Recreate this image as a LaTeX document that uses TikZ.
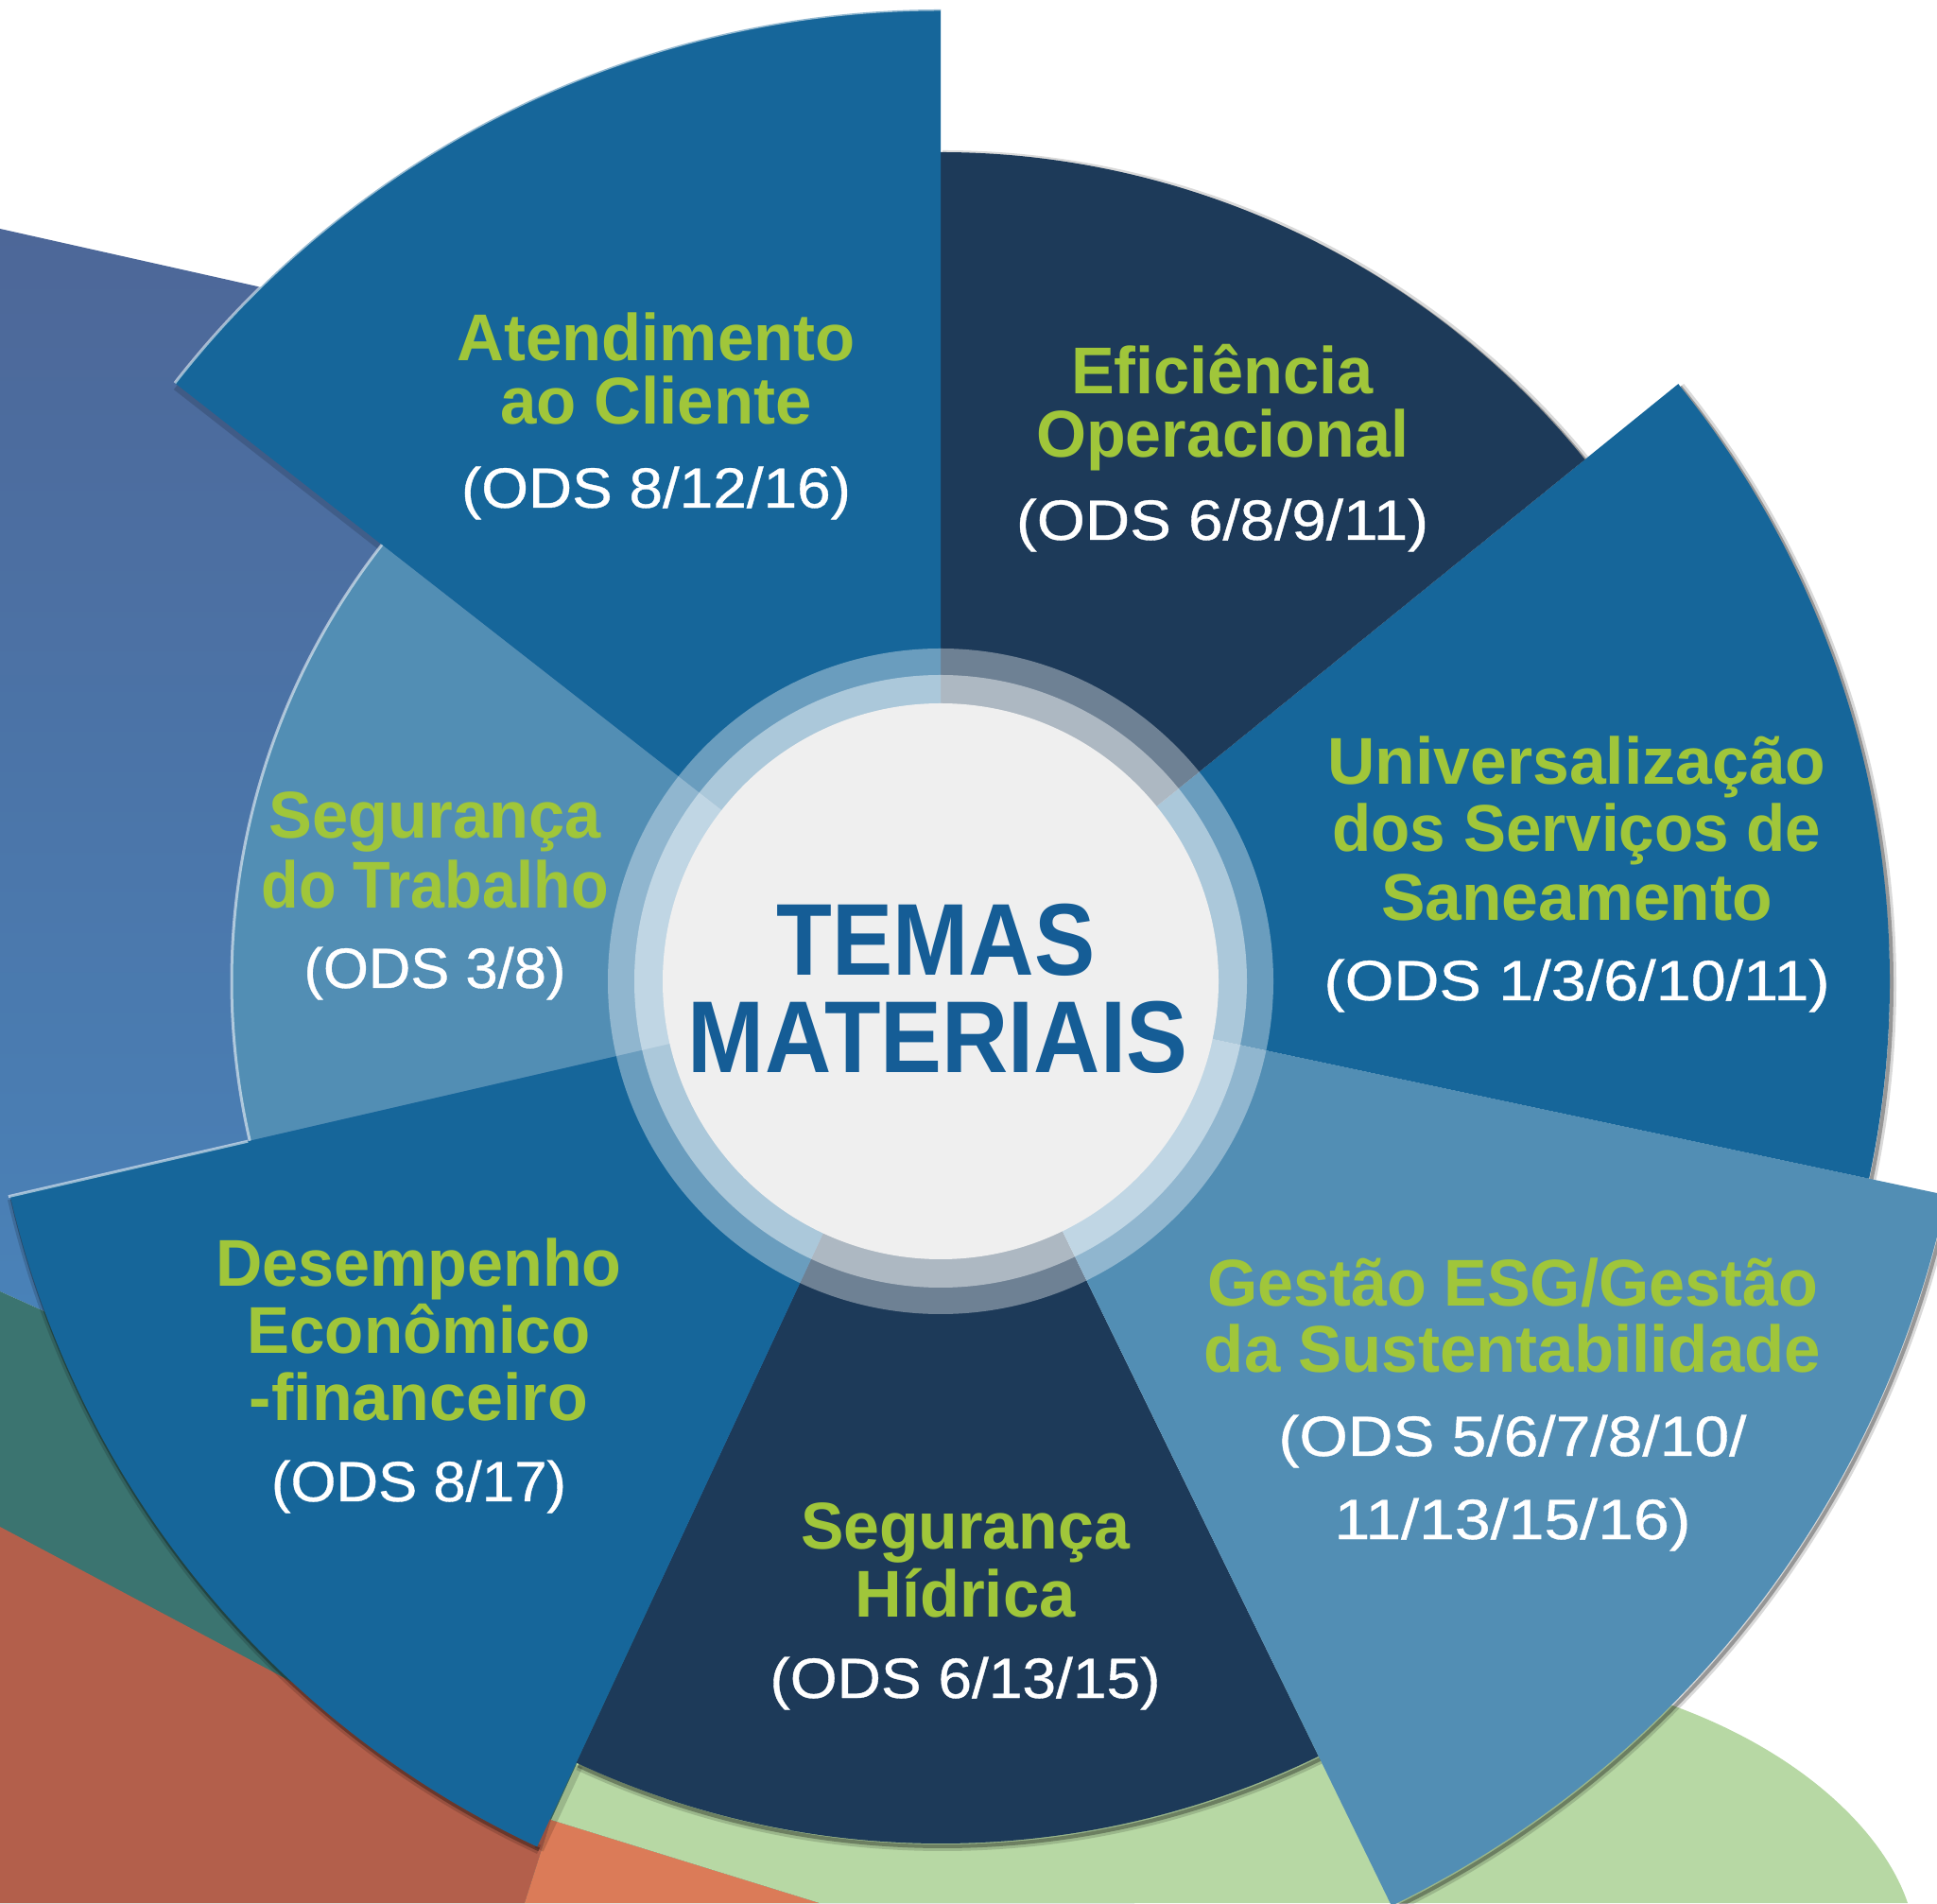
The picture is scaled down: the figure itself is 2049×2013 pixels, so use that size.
\documentclass[tikz,border=0pt]{standalone}
\usepackage{fontspec}
\setmainfont{Liberation Sans}
\newfontfamily\odsfont[FakeBold=0.6]{Liberation Sans}
\usepackage{graphicx}
\definecolor{medblue}{RGB}{22,102,154}
\definecolor{navy}{RGB}{29,58,89}
\definecolor{ltblue}{RGB}{82,142,180}
\definecolor{lime}{RGB}{160,198,58}
\definecolor{temas}{RGB}{21,93,150}
\definecolor{bgtop}{RGB}{77,103,152}
\definecolor{bgbot}{RGB}{72,140,196}
\definecolor{tealbg}{RGB}{59,116,112}
\definecolor{brick}{RGB}{179,95,75}
\definecolor{salmon}{RGB}{219,123,88}
\definecolor{pale}{RGB}{183,216,164}
\definecolor{disc}{RGB}{239,239,239}
\newcommand{\fitw}[2]{\resizebox{#1pt}{\height}{#2}}
\newcommand{\mysector}[4]{\fill[#1] (0,0) -- (#2:#4) arc[start angle=#2, end angle=#3, radius=#4] -- cycle;}
\newcommand{\myshadow}[3]{%
  \draw[dshadow] (#1:#3) arc[start angle=#1, end angle=#2, radius=#3];
  \draw[dshadowb] (#1:#3) arc[start angle=#1, end angle=#2, radius=#3];}
\tikzset{
  ttl/.style={text=lime, font=\fontsize{35}{35}\selectfont\bfseries, anchor=base, inner sep=0pt},
  ods/.style={text=white, font=\fontsize{30}{30}\selectfont\odsfont, anchor=base, inner sep=0pt},
  ctr/.style={text=temas, font=\fontsize{54}{54}\selectfont\bfseries, anchor=base, inner sep=0pt},
  dshadow/.style={black, line width=5pt, opacity=0.15},
  dshadowb/.style={black, line width=2pt, opacity=0.3},
  lrim/.style={white, line width=1.5pt, opacity=0.55},
}
\begin{document}
\begin{tikzpicture}[x=0.5pt,y=0.5pt]
\useasboundingbox (0,0) rectangle (2049,2013);
\fill[white] (0,0) rectangle (2049,2013);
\begin{scope}
\clip (0,0) rectangle (2049,2013);
% background shapes
\shade[top color=bgtop, bottom color=bgbot] (0,1771) -- (1000,1547) -- (1000,197) -- (0,647) -- cycle;
\fill[tealbg] (0,647) -- (1200,107) -- (1200,0) -- (0,0) -- cycle;
\fill[brick] (0,398) -- (583,88) -- (555,0) -- (0,0) -- cycle;
\fill[salmon] (583,88) -- (867,0) -- (555,0) -- cycle;
\fill[pale] (583,88) -- (640,213) -- (1500,253) .. controls (1800,253) and (1980,113) .. (2018,0) -- (867,0) -- cycle;
% wheel
\begin{scope}[shift={(995,975)}]
  \begin{scope}[shift={(2,-3)}]
    \myshadow{-115}{-64}{912}
    \myshadow{-64}{-12}{1088}
    \myshadow{-12}{39}{1004}
    \myshadow{39}{90}{877}
    \myshadow{193}{245}{1010}
    \draw[dshadow] (142:750) -- (142:1028);
    \draw[dshadow] (245:912) -- (245:1010);
  \end{scope}
  \mysector{navy}{-115}{-64}{912}
  \mysector{ltblue}{-64}{-12}{1088}
  \mysector{medblue}{-12}{39}{1004}
  \mysector{navy}{39}{90}{877}
  \mysector{medblue}{90}{142}{1028}
  \mysector{ltblue}{142}{193}{750}
  \mysector{medblue}{193}{245}{1010}
  \draw[lrim] (90:1028) arc[start angle=90, end angle=142, radius=1028];
  \draw[lrim] (142:750) arc[start angle=142, end angle=193, radius=750];
  \draw[lrim] (193:752) -- (193:1012);
  % ring and disc
  \fill[white, opacity=0.36] (0,0) circle[radius=352];
  \fill[white, opacity=0.44] (0,0) circle[radius=324];
  \fill[disc] (0,0) circle[radius=294];
\end{scope}
\end{scope}
% texts
\node[ttl] (at1) at (694,1631) {\fitw{210.5}{Atendimento}};
\node[ttl] (at2) at (694,1564) {\fitw{165}{ao Cliente}};
\node[ods] (at3) at (694,1476) {\fitw{206}{(ODS 8/12/16)}};
\node[ttl] (ef1) at (1293,1596) {\fitw{160}{Eficiência}};
\node[ttl] (ef2) at (1293,1529) {\fitw{197}{Operacional}};
\node[ods] (ef3) at (1293,1442) {\fitw{218}{(ODS 6/8/9/11)}};
\node[ttl] (un1) at (1668,1183) {\fitw{263.5}{Universalização}};
\node[ttl] (un2) at (1668,1112) {\fitw{258.5}{dos Serviços de}};
\node[ttl] (un3) at (1668,1039) {\fitw{207}{Saneamento}};
\node[ods] (un4) at (1668,955) {\fitw{267.5}{(ODS 1/3/6/10/11)}};
\node[ttl] (ge1) at (1600,631) {\fitw{323}{Gestão ESG/Gestão}};
\node[ttl] (ge2) at (1600,561) {\fitw{326}{da Sustentabilidade}};
\node[ods] (ge3) at (1600,473) {\fitw{247.5}{(ODS 5/6/7/8/10/}};
\node[ods] (ge4) at (1600,385) {\fitw{188.5}{11/13/15/16)}};
\node[ttl] (hi1) at (1021,374) {\fitw{174}{Segurança}};
\node[ttl] (hi2) at (1021,303) {\fitw{116.5}{Hídrica}};
\node[ods] (hi3) at (1021,217) {\fitw{206.5}{(ODS 6/13/15)}};
\node[ttl] (de1) at (443,652) {\fitw{214.5}{Desempenho}};
\node[ttl] (de2) at (443,581) {\fitw{181.5}{Econômico}};
\node[ttl] (de3) at (443,510) {\fitw{179}{-financeiro}};
\node[ods] (de4) at (443,425) {\fitw{156}{(ODS 8/17)}};
\node[ttl] (tr1) at (460,1126) {\fitw{175.5}{Segurança}};
\node[ttl] (tr2) at (460,1052) {\fitw{183.5}{do Trabalho}};
\node[ods] (tr3) at (460,968) {\fitw{138.5}{(ODS 3/8)}};
\node[ctr] (c1) at (990,981) {\fitw{168.5}{TEMAS}};
\node[ctr] (c2) at (992,878) {\fitw{264}{MATERIAIS}};
\end{tikzpicture}
\end{document}
